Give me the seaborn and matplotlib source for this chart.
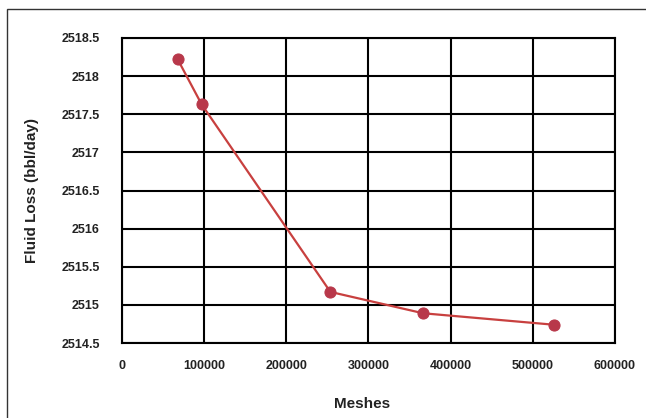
import matplotlib
matplotlib.use("Agg")
import matplotlib.pyplot as plt
from matplotlib.patches import Rectangle
import seaborn as sns
import pandas as pd

# Grid-convergence study: number of mesh cells vs. computed fluid loss
meshes = [67800, 96900, 253600, 366500, 525200]
fluid_loss = [2518.22, 2517.63, 2515.17, 2514.89, 2514.74]
x_ticks = [0, 100000, 200000, 300000, 400000, 500000, 600000]
y_ticks = [2514.5, 2515, 2515.5, 2516, 2516.5, 2517, 2517.5, 2518, 2518.5]
x_label = "Meshes"
y_label = "Fluid Loss (bbl/day)"

df = pd.DataFrame({"meshes": meshes, "loss": fluid_loss})

sns.set_theme(style="white")
plt.rcParams["font.family"] = ["Liberation Sans", "DejaVu Sans"]

fig = plt.figure(figsize=(6.46, 4.18), dpi=100)
ax = fig.add_axes([122 / 646, 1 - 343 / 418, (615 - 122) / 646, (343 - 38) / 418])

sns.lineplot(data=df, x="meshes", y="loss", ax=ax, color="#c8403f",
             linewidth=1.6, marker="o", markersize=8,
             markerfacecolor="#b8384a", markeredgecolor="#b8384a", zorder=3)

ax.set_xlim(0, 600000)
ax.set_ylim(2514.5, 2518.5)
ax.set_xticks(x_ticks)
ax.set_yticks(y_ticks)
ax.set_xticklabels([str(v) for v in x_ticks])
ax.set_yticklabels([f"{v:g}" for v in y_ticks])
ax.grid(True, color="black", linewidth=1.5)
ax.set_axisbelow(True)
for s in ax.spines.values():
    s.set_color("black")
    s.set_linewidth(1.5)
    s.set_visible(True)

ax.tick_params(axis="both", length=0, labelsize=9, colors="#222222")
ax.tick_params(axis="x", pad=12)
ax.tick_params(axis="y", pad=16)
for lbl in ax.get_xticklabels() + ax.get_yticklabels():
    lbl.set_fontweight("bold")
    lbl.set_fontstretch("condensed")

ax.set_ylabel(y_label, fontsize=11, fontweight="bold", color="#222222", labelpad=16)
ax.set_xlabel("")
fig.text(362 / 646, 1 - 404 / 418, x_label, ha="center", va="center",
         fontsize=11, fontweight="bold", color="#222222")

# Outer chart frame
fig.patches.append(Rectangle((7 / 646, -0.05), (645 - 7) / 646 + 0.1, 1 - 9 / 418 + 0.05,
                             transform=fig.transFigure, fill=False,
                             edgecolor="#333333", linewidth=1.0))

fig.savefig("out.png", dpi=100)
